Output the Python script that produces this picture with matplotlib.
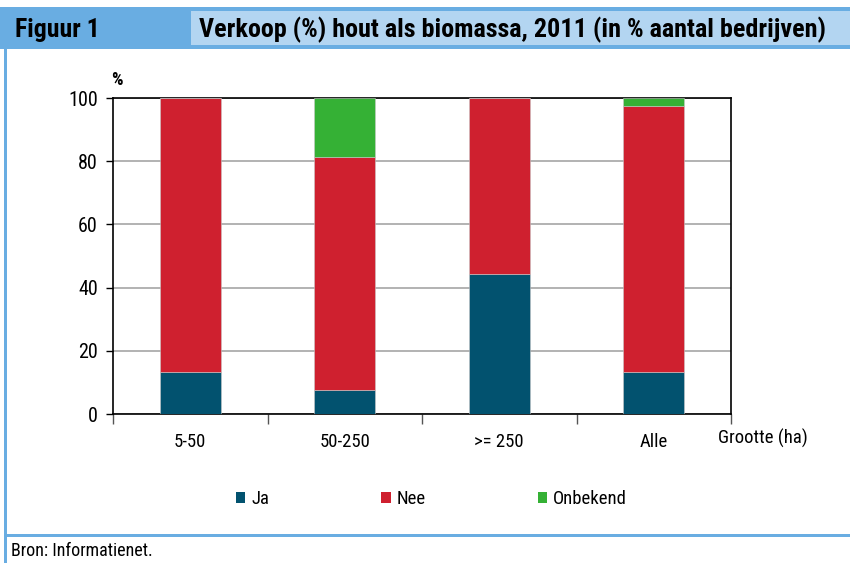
import matplotlib
matplotlib.use("Agg")
import matplotlib.pyplot as plt
from matplotlib.patches import Rectangle, Patch
from matplotlib import font_manager
import numpy as np

categories = ["5-50", "50-250", ">= 250", "Alle"]
ja = [13.3, 7.6, 44.4, 13.4]
nee = [86.7, 73.7, 55.6, 84.0]
onbekend = [0.0, 18.7, 0.0, 2.6]
series_names = ["Ja", "Nee", "Onbekend"]
yticks = [0, 20, 40, 60, 80, 100]

title_left = "Figuur 1"
title_right = "Verkoop (%) hout als biomassa, 2011 (in % aantal bedrijven)"
source = "Bron: Informatienet."
xlabel = "Grootte (ha)"
ylabel = "%"

avail = {f.name for f in font_manager.fontManager.ttflist}
fam = "Liberation Sans"
for cand in ["Roboto Condensed", "Archivo Narrow", "Liberation Sans Narrow"]:
    if cand in avail:
        fam = cand
        break
plt.rcParams['font.family'] = [fam, 'DejaVu Sans']

W, H = 850, 563
fig = plt.figure(figsize=(W / 100, H / 100), dpi=100)

def fx(x):
    return x / W

def fy(y):
    return 1 - y / H

dark = "#69ade2"
light = "#b3d5f1"
# header
fig.add_artist(Rectangle((fx(0), fy(49)), fx(850), 42 / H, transform=fig.transFigure,
                         facecolor=dark, edgecolor="none"))
fig.add_artist(Rectangle((fx(191), fy(45)), fx(850 - 191), 34 / H, transform=fig.transFigure,
                         facecolor=light, edgecolor="none"))
# left border line
fig.add_artist(Rectangle((fx(4), fy(563)), 3 / W, 556 / H, transform=fig.transFigure,
                         facecolor=dark, edgecolor="none"))
# bottom line
fig.add_artist(Rectangle((fx(4), fy(537)), fx(850 - 4), 3 / H, transform=fig.transFigure,
                         facecolor=dark, edgecolor="none"))

fig.text(fx(15), fy(30), title_left, fontsize=18.5, fontweight="bold", va="center", ha="left")
fig.text(fx(199), fy(30), title_right, fontsize=18.8, fontweight="bold", va="center", ha="left")
fig.text(fx(11), fy(551), source, fontsize=13, va="center", ha="left")

ax = fig.add_axes([fx(113), fy(414), 618 / W, 316 / H])
x = np.arange(len(categories))
colors = ["#02526f", "#cf202f", "#35b135"]
bw = 0.395
bottom = np.zeros(len(categories))
for vals, c, name in zip([ja, nee, onbekend], colors, series_names):
    ax.bar(x, vals, bw, bottom=bottom, color=c, edgecolor="#c8c8c8", linewidth=0.4,
           label=name, zorder=3)
    bottom = bottom + np.array(vals)

ax.set_xlim(-0.5, len(categories) - 0.5)
ax.set_ylim(0, 100)
ax.set_yticks(yticks)
ax.set_yticklabels([str(v) for v in yticks], fontsize=14.5)
ax.set_xticks(x)
ax.set_xticklabels(categories, fontsize=13.5)
ax.set_xticks(np.arange(-0.5, len(categories)), minor=True)
ax.tick_params(axis="x", which="major", length=0, pad=14)
ax.tick_params(axis="x", which="minor", length=7, width=1, direction="out", color="#555555")
ax.tick_params(axis="y", length=5, width=1, direction="out", pad=6)
ax.yaxis.grid(True, color="#a6a6a6", linewidth=1.2, zorder=0)
ax.set_axisbelow(True)
for s in ax.spines.values():
    s.set_color("black")
    s.set_linewidth(1.2)

fig.text(fx(117), fy(80), ylabel, fontsize=13, fontweight="bold", ha="center", va="center")
fig.text(fx(763), fy(438), xlabel, fontsize=13.5, ha="center", va="center")

handles = [Patch(facecolor=c, edgecolor="none") for c in colors]
fig.legend(handles, series_names, loc="center left", bbox_to_anchor=(fx(236), fy(499)),
           ncol=3, frameon=False, fontsize=13.5, handlelength=0.5, handleheight=0.5,
           handletextpad=0.3, columnspacing=6.0, borderaxespad=0, borderpad=0)

fig.savefig("out.png", dpi=100)
